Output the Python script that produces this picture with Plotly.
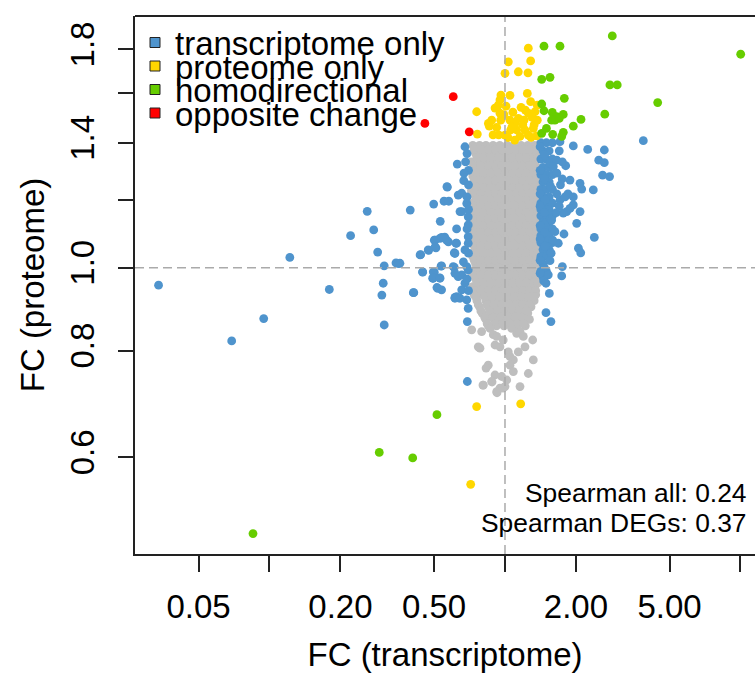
import plotly.graph_objects as go

# ---- fold changes: (transcriptome FC, proteome FC) per protein, by class ----
# unchanged proteins: dense core, rows listed from high to low proteome FC
gray_x = [
    0.73, 0.78, 0.83, 0.89, 0.95, 1.02, 1.09, 1.17, 1.25, 1.33, 1.38,
    0.75, 0.80, 0.86, 0.92, 0.99, 1.05, 1.13, 1.21, 1.30, 1.37,
    0.72, 0.78, 0.83, 0.89, 0.95, 1.02, 1.09, 1.17, 1.25, 1.34,
    0.75, 0.80, 0.86, 0.92, 0.99, 1.06, 1.13, 1.21, 1.29, 1.37,
    0.73, 0.78, 0.83, 0.89, 0.95, 1.02, 1.09, 1.17, 1.25, 1.34,
    0.75, 0.80, 0.86, 0.92, 0.99, 1.05, 1.13, 1.21, 1.30, 1.38,
    0.72, 0.78, 0.83, 0.89, 0.95, 1.02, 1.09, 1.17, 1.25, 1.34,
    0.75, 0.80, 0.86, 0.92, 0.98, 1.06, 1.13, 1.21, 1.30, 1.37,
    0.73, 0.78, 0.83, 0.89, 0.95, 1.02, 1.09, 1.17, 1.25, 1.34,
    0.75, 0.80, 0.86, 0.92, 0.99, 1.05, 1.13, 1.21, 1.29, 1.38,
    0.72, 0.78, 0.83, 0.89, 0.95, 1.02, 1.09, 1.17, 1.25, 1.34,
    0.75, 0.80, 0.86, 0.92, 0.99, 1.06, 1.13, 1.21, 1.30, 1.37,
    0.73, 0.78, 0.83, 0.89, 0.95, 1.02, 1.09, 1.17, 1.25, 1.34,
    0.75, 0.80, 0.86, 0.92, 0.99, 1.05, 1.13, 1.21, 1.30, 1.38,
    0.72, 0.78, 0.83, 0.89, 0.95, 1.02, 1.09, 1.17, 1.25, 1.34,
    0.75, 0.80, 0.86, 0.92, 0.99, 1.06, 1.13, 1.21, 1.29, 1.37,
    0.73, 0.78, 0.83, 0.89, 0.95, 1.02, 1.09, 1.17, 1.25, 1.34,
    0.75, 0.80, 0.86, 0.92, 0.99, 1.05, 1.13, 1.21, 1.30, 1.38,
    0.72, 0.78, 0.83, 0.89, 0.95, 1.02, 1.09, 1.17, 1.25, 1.34,
    0.75, 0.80, 0.86, 0.92, 0.99, 1.06, 1.13, 1.21, 1.30, 1.37,
    0.73, 0.78, 0.83, 0.89, 0.95, 1.02, 1.09, 1.17, 1.25, 1.34,
    0.74, 0.80, 0.86, 0.92, 0.99, 1.05, 1.13, 1.21, 1.29, 1.35,
    0.76, 0.83, 0.89, 0.95, 1.02, 1.09, 1.17, 1.25, 1.33,
    0.78, 0.85, 0.91, 0.98, 1.05, 1.13, 1.21, 1.29,
    0.80, 0.87, 0.94, 1.01, 1.08, 1.16, 1.25,
    0.83, 0.90, 0.97, 1.04, 1.11, 1.19, 1.27,
    0.85, 0.92, 0.99, 1.06, 1.13, 1.22,
    # in-between rows of the core
    0.74, 0.79, 0.85, 0.91, 0.97, 1.04, 1.11, 1.19, 1.27, 1.35,
    0.76, 0.81, 0.87, 0.94, 1.00, 1.08, 1.15, 1.23, 1.32, 1.38,
    0.74, 0.79, 0.85, 0.91, 0.97, 1.04, 1.11, 1.19, 1.27, 1.35,
    0.76, 0.81, 0.87, 0.94, 1.00, 1.08, 1.15, 1.23, 1.32, 1.38,
    0.74, 0.79, 0.85, 0.91, 0.97, 1.04, 1.11, 1.19, 1.27, 1.35,
    0.76, 0.81, 0.87, 0.94, 1.00, 1.08, 1.15, 1.23, 1.32, 1.38,
    0.74, 0.79, 0.85, 0.91, 0.97, 1.04, 1.11, 1.19, 1.27, 1.35,
    0.76, 0.81, 0.87, 0.94, 1.00, 1.08, 1.15, 1.23, 1.32, 1.38,
    0.74, 0.79, 0.85, 0.91, 0.97, 1.04, 1.11, 1.19, 1.27, 1.35,
    0.76, 0.81, 0.87, 0.94, 1.00, 1.08, 1.15, 1.23, 1.32, 1.38,
    0.74, 0.79, 0.85, 0.91, 0.97, 1.04, 1.11, 1.19, 1.27, 1.35,
    0.76, 0.81, 0.87, 0.94, 1.00, 1.08, 1.15, 1.23, 1.32, 1.38,
    0.74, 0.79, 0.85, 0.91, 0.97, 1.04, 1.11, 1.19, 1.27, 1.35,
    0.76, 0.81, 0.87, 0.94, 1.00, 1.08, 1.15, 1.23, 1.32, 1.38,
    0.74, 0.79, 0.85, 0.91, 0.97, 1.04, 1.11, 1.19, 1.27, 1.35,
    0.76, 0.81, 0.87, 0.94, 1.00, 1.08, 1.15, 1.23, 1.32, 1.38,
    0.74, 0.79, 0.85, 0.91, 0.97, 1.04, 1.11, 1.19, 1.27, 1.35,
    0.76, 0.81, 0.87, 0.94, 1.00, 1.08, 1.15, 1.23, 1.32, 1.38,
    0.74, 0.79, 0.85, 0.91, 0.97, 1.04, 1.11, 1.19, 1.27, 1.35,
    0.76, 0.81, 0.87, 0.94, 1.00, 1.08, 1.15, 1.23, 1.32, 1.38,
    0.74, 0.79, 0.85, 0.91, 0.97, 1.04, 1.11, 1.19, 1.27, 1.35,
    0.75, 0.82, 0.88, 0.95, 1.02, 1.10, 1.18, 1.26, 1.33,
    0.77, 0.84, 0.90, 0.97, 1.04, 1.11, 1.19, 1.27,
    0.79, 0.86, 0.93, 1.00, 1.07, 1.15, 1.23,
    0.82, 0.89, 0.96, 1.03, 1.10, 1.18,
    0.84, 0.91, 0.98, 1.05, 1.12, 1.20,
    # sparse tail below the core
    0.722, 0.796, 0.770, 0.783, 0.864, 0.892, 0.952, 0.907, 0.922, 0.983,
    1.068, 1.121, 1.158, 1.196, 1.216, 1.311, 1.139, 1.033, 1.050, 1.085,
    1.050, 1.319, 1.256, 1.085, 1.017, 0.968, 0.907, 0.878, 0.849, 0.831,
    0.809, 0.952, 0.922, 1.158, 1.000, 0.806, 0.881, 0.925, 0.980,
]
gray_y = (
    [1.39] * 11 + [1.36] * 10 + [1.33] * 10 + [1.30] * 10 + [1.28] * 10
    + [1.25] * 10 + [1.23] * 10 + [1.21] * 10 + [1.19] * 10 + [1.17] * 10
    + [1.15] * 10 + [1.13] * 10 + [1.11] * 10 + [1.09] * 10 + [1.07] * 10
    + [1.05] * 10 + [1.03] * 10 + [1.01] * 10 + [0.99] * 10 + [0.97] * 10
    + [0.95] * 10 + [0.93] * 10 + [0.915] * 9 + [0.90] * 8 + [0.885] * 7
    + [0.87] * 7 + [0.855] * 6
    + [1.375] * 10 + [1.345] * 10 + [1.315] * 10 + [1.29] * 10 + [1.265] * 10
    + [1.24] * 10 + [1.22] * 10 + [1.20] * 10 + [1.18] * 10 + [1.16] * 10
    + [1.14] * 10 + [1.12] * 10 + [1.10] * 10 + [1.08] * 10 + [1.06] * 10
    + [1.04] * 10 + [1.02] * 10 + [1.00] * 10 + [0.98] * 10 + [0.96] * 10
    + [0.94] * 10 + [0.925] * 9 + [0.905] * 8 + [0.89] * 7 + [0.875] * 6
    + [0.86] * 6
    + [0.846, 0.842, 0.808, 0.805, 0.849, 0.835, 0.808, 0.812, 0.831, 0.823,
       0.849, 0.838, 0.842, 0.831, 0.808, 0.823, 0.797, 0.797, 0.787, 0.780,
       0.769, 0.780, 0.752, 0.756, 0.739, 0.746, 0.749, 0.736, 0.769, 0.763,
       0.729, 0.723, 0.716, 0.726, 0.726, 0.729, 0.735, 0.714, 0.723]
)

blue_x = [
    0.0338, 0.0691, 0.0945, 0.122, 0.1795, 0.221, 0.260, 0.277, 0.288, 0.307,
    0.304, 0.300, 0.307, 0.3445, 0.353, 0.396, 0.410, 0.4385, 0.447, 0.474,
    0.498, 0.509, 0.501, 0.493, 0.531, 0.528, 0.535, 0.514, 0.538, 0.501,
    0.530, 0.555, 0.569, 0.551, 0.577, 0.575, 0.609, 0.623, 0.619, 0.633,
    0.609, 0.633, 0.613, 0.633, 0.644,
    0.676, 0.627, 0.567, 0.668, 0.655,
    0.655, 0.688, 0.698, 0.698, 0.698, 0.505, 0.538, 0.565, 0.623, 0.698,
    0.436, 0.472, 0.505, 0.613, 0.676, 0.666, 0.603, 0.688, 0.698, 0.538,
    0.358, 0.447, 0.496, 0.496, 0.530, 0.655, 0.613, 0.408, 0.518, 0.676,
    0.655, 0.623, 0.613, 0.644, 0.688, 0.698, 0.692, 0.692,
    0.69, 0.70, 0.68, 0.70, 0.69, 0.67, 0.70, 0.69, 0.70, 0.69, 0.70,
    1.42, 1.50, 1.59, 1.45, 1.54, 1.42, 1.50, 1.59, 1.45, 1.54,
    1.42, 1.50, 1.59, 1.45, 1.54, 1.42, 1.50, 1.59, 1.45, 1.54,
    1.42, 1.50, 1.59, 1.45, 1.54, 1.42, 1.50, 1.59, 1.45, 1.54,
    1.42, 1.50, 1.59, 1.45, 1.54, 1.42, 1.50, 1.59, 1.45, 1.54,
    1.42, 1.50, 1.45, 1.42, 1.50, 1.45, 1.42, 1.50, 1.42, 1.45,
    1.41, 1.47, 1.55, 1.41, 1.47, 1.56, 1.41, 1.48, 1.41, 1.47,
    1.56, 1.41, 1.47, 1.41, 1.48, 1.57, 1.41, 1.47, 1.41, 1.46,
    1.712, 1.95, 2.245, 2.641, 3.867, 2.50, 2.641, 2.597, 2.78, 2.371,
    2.117, 2.083, 1.888, 1.81, 1.752, 1.658, 1.604, 1.712, 1.95, 2.083,
    2.016, 1.78, 2.395, 2.05, 2.097, 1.684, 1.594, 1.752, 1.741, 1.553,
    1.527, 1.493, 1.543, 1.493, 1.567, 1.828, 1.888, 1.768, 1.578, 1.63,
    1.70, 1.66, 1.75, 1.85, 1.72, 1.80, 1.66, 1.70, 1.95, 1.65,
]
blue_y = [
    0.954, 0.821, 0.872, 1.028, 0.943, 1.090, 1.164, 1.107, 1.043, 1.005,
    0.959, 0.929, 0.857, 1.013, 1.011, 1.168, 0.935, 1.036, 0.988, 1.048,
    1.187, 1.055, 0.988, 0.972, 1.133, 0.973, 1.004, 0.948, 0.942, 1.077,
    1.082, 1.086, 1.242, 1.196, 1.196, 1.072, 1.041, 1.110, 1.068, 1.216,
    1.001, 0.976, 0.923, 0.922, 1.163,
    1.385, 1.322, 1.244, 1.264, 1.222,
    1.163, 1.189, 1.147, 1.122, 1.087, 1.077, 1.085, 1.077, 1.068, 1.068,
    1.035, 1.049, 1.058, 1.039, 1.049, 1.016, 1.003, 1.003, 0.994, 1.005,
    1.012, 0.989, 0.989, 0.972, 0.972, 0.981, 0.985, 0.935, 0.946, 0.959,
    0.942, 0.925, 0.921, 0.921, 0.917, 0.896, 0.865, 0.736,
    1.36, 1.30, 1.33, 1.25, 1.21, 1.29, 1.17, 1.11, 1.04, 0.97, 0.94,
    1.40, 1.40, 1.40, 1.37, 1.37, 1.34, 1.34, 1.34, 1.31, 1.31,
    1.285, 1.285, 1.285, 1.26, 1.26, 1.235, 1.235, 1.235, 1.21, 1.21,
    1.19, 1.19, 1.19, 1.17, 1.17, 1.15, 1.15, 1.15, 1.13, 1.13,
    1.11, 1.11, 1.11, 1.09, 1.09, 1.07, 1.07, 1.07, 1.05, 1.05,
    1.03, 1.03, 1.01, 0.99, 0.99, 0.975, 1.09, 1.13, 1.17, 1.21,
    1.385, 1.355, 1.325, 1.30, 1.27, 1.245, 1.22, 1.20, 1.18, 1.16,
    1.14, 1.12, 1.10, 1.08, 1.06, 1.04, 1.02, 1.00, 0.985, 0.965,
    1.404, 1.388, 1.375, 1.373, 1.408, 1.336, 1.327, 1.283, 1.278, 1.233,
    1.236, 1.255, 1.266, 1.316, 1.330, 1.336, 1.313, 1.20, 1.184, 1.163,
    1.127, 1.095, 1.085, 1.054, 1.041, 1.068, 1.077, 1.003, 0.978, 1.019,
    0.981, 0.959, 0.933, 0.886, 0.865, 1.163, 1.173, 1.158, 1.137, 1.102,
    1.37, 1.29, 1.27, 1.22, 1.25, 1.21, 1.22, 1.18, 1.21, 1.16,
]

yellow_x = [
    1.256, 1.033, 1.285, 1.139, 1.252, 1.000, 0.961, 1.050, 1.244, 1.285,
    1.371, 0.937, 1.010, 0.952, 0.758, 1.220, 1.256, 0.959, 1.050, 1.139,
    1.103, 1.204, 1.371, 0.858, 0.922, 1.057, 1.121, 1.216, 1.319, 0.763,
    1.000, 1.158, 1.363, 1.256, 0.952, 0.907, 1.341, 0.850, 0.878,
    1.10, 1.03, 0.94, 1.19, 1.30, 1.08, 1.17, 0.99, 1.33, 0.89, 1.29, 1.07,
    0.758, 1.166, 0.715,
]
yellow_y = [
    1.806, 1.741, 1.745, 1.695, 1.690, 1.688, 1.592, 1.591, 1.599, 1.564,
    1.549, 1.549, 1.545, 1.516, 1.522, 1.529, 1.516, 1.488, 1.488, 1.495,
    1.475, 1.488, 1.488, 1.464, 1.459, 1.449, 1.449, 1.449, 1.455, 1.433,
    1.429, 1.424, 1.426, 1.429, 1.571, 1.537, 1.522, 1.475, 1.488,
    1.41, 1.42, 1.43, 1.47, 1.50, 1.52, 1.54, 1.51, 1.47, 1.43, 1.42, 1.46,
    0.688, 0.693, 0.558,
]

green_x = [
    2.855, 1.464, 1.712, 10.02, 1.432, 1.553, 2.79, 2.996, 1.786, 4.45,
    1.432, 1.464, 1.588, 1.658, 1.768, 1.578, 2.103, 2.653, 1.950, 1.500,
    1.432, 1.594, 1.768, 1.741, 1.63, 1.70,
    0.514, 0.2925, 0.4056, 0.0851,
]
green_y = [
    1.867, 1.816, 1.816, 1.777, 1.661, 1.670, 1.636, 1.636, 1.578, 1.560,
    1.554, 1.526, 1.519, 1.502, 1.511, 1.488, 1.491, 1.512, 1.464, 1.455,
    1.436, 1.432, 1.440, 1.424, 1.488, 1.495,
    0.673, 0.608, 0.599, 0.4886,
]

red_x = [0.457, 0.603, 0.705]
red_y = [1.475, 1.585, 1.442]

class_names = ["transcriptome only", "proteome only", "homodirectional", "opposite change"]
class_colors = ["#4F94CD", "#FFD700", "#66CD00", "#FF0000"]
gray_color = "#BEBEBE"

x_tickvals = [0.05, 0.1, 0.2, 0.5, 1, 2, 5, 10]
x_ticktext = ["0.05", "", "0.20", "0.50", "", "2.00", "5.00", ""]
y_tickvals = [0.6, 0.8, 1.0, 1.2, 1.4, 1.6, 1.8]
y_ticktext = ["0.6", "0.8", "1.0", "", "1.4", "", "1.8"]

spearman_all = 0.24
spearman_degs = 0.37

# ---- figure geometry (pixels) ----
W, H = 755, 673
L, R, T, B = 135, 0, 16, 119
PW, PH = W - L - R, H - T - B
FONT = "Liberation Sans, Arial, Helvetica, sans-serif"


def px_x(px):
    return (px - L) / PW


def px_y(py):
    return (H - B - py) / PH


fig = go.Figure()
marker_size = 8.8
series = [
    (gray_x, gray_y, gray_color),
    (blue_x, blue_y, class_colors[0]),
    (yellow_x, yellow_y, class_colors[1]),
    (green_x, green_y, class_colors[2]),
    (red_x, red_y, class_colors[3]),
]
for xs, ys, col in series:
    fig.add_trace(go.Scatter(
        x=xs, y=ys, mode="markers",
        marker=dict(size=marker_size, color=col, line=dict(width=0)),
        showlegend=False, hoverinfo="skip",
    ))

shapes = [
    # reference lines at FC = 1
    dict(type="line", xref="x", yref="paper", x0=1, x1=1, y0=0, y1=1,
         line=dict(color="#AAAAAA", width=1.5, dash="9px,5px"), layer="above"),
    dict(type="line", xref="paper", yref="y", x0=0, x1=1, y0=1, y1=1,
         line=dict(color="#AAAAAA", width=1.5, dash="9px,5px"), layer="above"),
    # top border of the frame
    dict(type="line", xref="paper", yref="paper", x0=0, x1=1, y0=1, y1=1,
         line=dict(color="#222222", width=2), layer="above"),
]

annotations = []
legend_rows = [42.5, 66.0, 89.5, 113.0]
sq = 10
for name, col, cy in zip(class_names, class_colors, legend_rows):
    shapes.append(dict(
        type="rect", xref="paper", yref="paper",
        x0=px_x(155 - sq / 2), x1=px_x(155 + sq / 2),
        y0=px_y(cy + sq / 2), y1=px_y(cy - sq / 2),
        fillcolor=col, line=dict(color="#222222", width=1), layer="above",
    ))
    annotations.append(dict(
        text=name, xref="paper", yref="paper", x=px_x(173), y=px_y(cy + 1),
        xanchor="left", yanchor="middle", showarrow=False,
        font=dict(size=33, color="black", family=FONT),
    ))

for txt, cy in [(f"Spearman all: {spearman_all:.2f}", 493),
                (f"Spearman DEGs: {spearman_degs:.2f}", 523)]:
    annotations.append(dict(
        text=txt, xref="paper", yref="paper", x=px_x(749), y=px_y(cy),
        xanchor="right", yanchor="middle", showarrow=False,
        font=dict(size=26.4, color="black", family=FONT),
    ))

fig.update_layout(
    width=W, height=H,
    margin=dict(l=L, r=R, t=T, b=B, pad=0),
    paper_bgcolor="white", plot_bgcolor="white",
    font=dict(family=FONT, color="black", size=33),
    shapes=shapes, annotations=annotations,
    xaxis=dict(
        type="log", range=[-1.5711, 1.0616],
        tickvals=x_tickvals, ticktext=x_ticktext,
        ticks="outside", ticklen=16, tickwidth=1.5, tickcolor="#222222",
        showline=True, linecolor="#222222", linewidth=2,
        showgrid=False, zeroline=False,
        tickfont=dict(size=33), ticklabelstandoff=6,
        title=dict(text="FC (transcriptome)", font=dict(size=33), standoff=22),
    ),
    yaxis=dict(
        type="log", range=[-0.3349, 0.2944],
        tickvals=y_tickvals, ticktext=y_ticktext, tickangle=-90,
        ticks="outside", ticklen=15, tickwidth=1.5, tickcolor="#222222",
        showline=True, linecolor="#222222", linewidth=2,
        showgrid=False, zeroline=False,
        tickfont=dict(size=33), ticklabelstandoff=11,
        title=dict(text="FC (proteome)", font=dict(size=33), standoff=9),
    ),
)

fig.write_html("out.html")
